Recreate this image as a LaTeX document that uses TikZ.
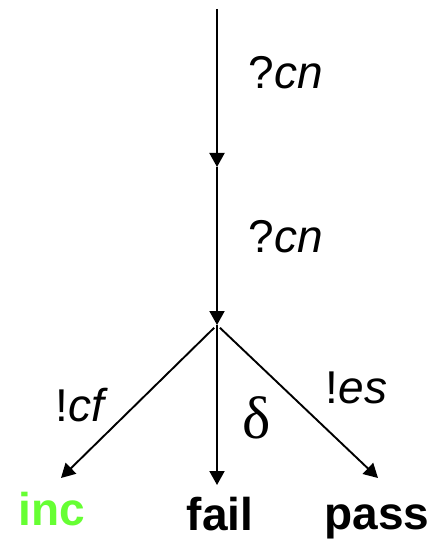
\documentclass[tikz,border=0pt]{standalone}
\usepackage{fontspec}
\setmainfont{Liberation Sans}
\newfontfamily\symbfont{Liberation Serif}
\usetikzlibrary{arrows.meta,positioning}
\definecolor{incgreen}{HTML}{66FF33}
\tikzset{
  verdict/.style={anchor=base,inner sep=0pt,font=\fontsize{46}{50}\selectfont\bfseries},
  trans/.style={inner sep=0pt,font=\fontsize{46}{50}\selectfont},
  arrow/.style={-{Triangle[length=14pt,width=15pt]},line width=1.9pt}
}
\begin{document}
\begin{tikzpicture}[x=1pt,y=-1pt]
  \useasboundingbox (0,0) rectangle (434,540);
  \coordinate (init) at (217,9);
  \coordinate (s1) at (217,167);
  \coordinate (s2) at (217,325);
  \coordinate (t1) at (61,478);
  \coordinate (t2) at (217,485);
  \coordinate (t3) at (378,478);
  \node[verdict, text=incgreen] (inc) at (52,525) {inc};
  \node[verdict] (fail) at (220,530) {fail};
  \node[verdict] (pass) at (377,529) {pass};
  \draw[arrow] (init) -- node[trans, pos=0.4, right=31pt] {?\textit{cn}} (s1);
  \draw[arrow] (s1) -- node[trans, pos=0.44, right=31pt] {?\textit{cn}} (s2);
  \draw[arrow, shorten <=4pt] (s2) -- node[trans, pos=0.52, left=27pt] {!\textit{cf}} (t1);
  \draw[arrow] (s2) -- node[trans, pos=0.58, right=25pt] {\fontsize{60}{60}\selectfont\symbfont δ} (t2);
  \draw[arrow, shorten <=4pt] (s2) -- node[trans, pos=0.41, right=42pt] {!\textit{es}} (t3);
\end{tikzpicture}
\end{document}
